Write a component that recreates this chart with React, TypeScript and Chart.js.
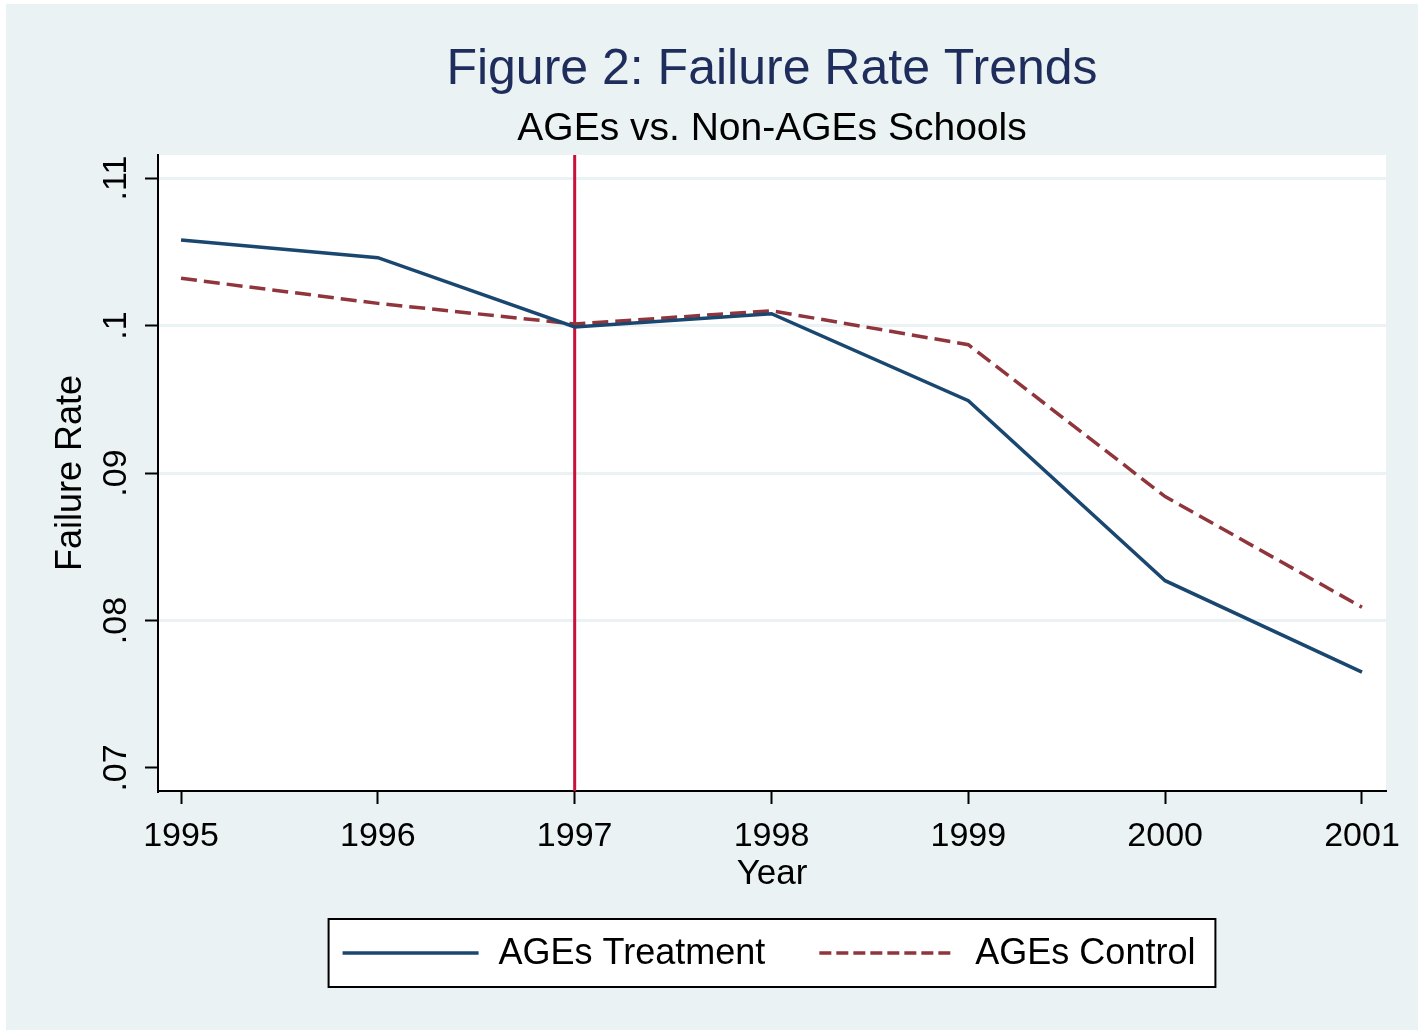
import { useEffect, useRef } from 'react';
import { Chart, registerables } from 'chart.js';

Chart.register(...registerables);

const years = [1995, 1996, 1997, 1998, 1999, 2000, 2001];
const treatment = [0.1058, 0.1046, 0.0999, 0.1008, 0.0949, 0.0827, 0.0765];
const control = [0.1032, 0.1015, 0.1001, 0.1010, 0.0987, 0.0884, 0.0809];
const yTicks = [0.07, 0.08, 0.09, 0.1, 0.11];
const yTickLabels = ['.07', '.08', '.09', '.1', '.11'];
const seriesLabels = ['AGEs Treatment', 'AGEs Control'];
const reformYear = 1997;
const titleText = 'Figure 2: Failure Rate Trends';
const subtitleText = 'AGEs vs. Non-AGEs Schools';
const xTitle = 'Year';
const yTitle = 'Failure Rate';

const FONT = '"Liberation Sans", Arial, Helvetica, sans-serif';
const BG = '#EAF2F3';
const X_MIN = 1994.883;
const X_MAX = 2001.122;
const Y_MIN = 0.06844;
const Y_MAX = 0.11156;

const backgroundPlugin = {
  id: 'stataBackground',
  beforeDraw(chart: any) {
    const { ctx, width, height, chartArea } = chart;
    ctx.save();
    ctx.fillStyle = '#ffffff';
    ctx.fillRect(0, 0, width, height);
    ctx.fillStyle = BG;
    ctx.fillRect(6, 4, width - 6, height - 4);
    ctx.fillStyle = '#ffffff';
    ctx.fillRect(chartArea.left, chartArea.top, chartArea.right - chartArea.left, chartArea.bottom - chartArea.top);
    ctx.restore();
  },
};

const legendPlugin = {
  id: 'stataLegend',
  afterDraw(chart: any) {
    const { ctx, chartArea } = chart;
    const ds = chart.data.datasets;
    ctx.save();
    ctx.font = `36px ${FONT}`;
    const w1 = ctx.measureText(seriesLabels[0]).width;
    const w2 = ctx.measureText(seriesLabels[1]).width;
    const padL = 14, sample = 136, gap = 20, itemGap = 54, padR = 20;
    const total = padL + sample + gap + w1 + itemGap + sample + gap + w2 + padR;
    const cx = (chartArea.left + chartArea.right) / 2;
    const left = cx - total / 2;
    const top = chartArea.bottom + 128;
    const h = 68;
    ctx.fillStyle = '#ffffff';
    ctx.fillRect(left, top, total, h);
    ctx.strokeStyle = '#000000';
    ctx.lineWidth = 2;
    ctx.strokeRect(left, top, total, h);
    const cy = top + h / 2;
    let x = left + padL;
    const items = [
      { ds: ds[0], label: seriesLabels[0], w: w1, dash: [] as number[] },
      { ds: ds[1], label: seriesLabels[1], w: w2, dash: [12, 5] },
    ];
    items.forEach((it, i) => {
      ctx.strokeStyle = it.ds.borderColor;
      ctx.lineWidth = 3.5;
      ctx.setLineDash(it.dash);
      ctx.beginPath();
      ctx.moveTo(x, cy);
      ctx.lineTo(x + sample, cy);
      ctx.stroke();
      ctx.setLineDash([]);
      x += sample + gap;
      ctx.fillStyle = '#000000';
      ctx.textBaseline = 'middle';
      ctx.textAlign = 'left';
      ctx.fillText(it.label, x, cy + 1);
      x += it.w + (i === 0 ? itemGap : 0);
    });
    ctx.restore();
  },
};

export default function App() {
  const ref = useRef<HTMLCanvasElement | null>(null);

  useEffect(() => {
    document.body.style.margin = '0';
    if (!ref.current) return;
    Chart.defaults.font.family = FONT;
    const chart = new Chart(ref.current, {
      type: 'line',
      data: {
        datasets: [
          {
            label: seriesLabels[0],
            data: years.map((y, i) => ({ x: y, y: treatment[i] })),
            borderColor: '#1A476F',
            borderWidth: 3.5,
            pointRadius: 0,
            tension: 0,
            fill: false,
          },
          {
            label: seriesLabels[1],
            data: years.map((y, i) => ({ x: y, y: control[i] })),
            borderColor: '#90353B',
            borderWidth: 3.5,
            borderDash: [16, 7],
            pointRadius: 0,
            tension: 0,
            fill: false,
          },
          {
            label: 'reform',
            data: [
              { x: reformYear, y: Y_MIN },
              { x: reformYear, y: Y_MAX },
            ],
            borderColor: '#C8103A',
            borderWidth: 3,
            pointRadius: 0,
            fill: false,
          },
        ],
      },
      options: {
        responsive: false,
        animation: false,
        devicePixelRatio: 1,
        layout: { padding: { left: 0, right: 32, top: 0, bottom: 129 } },
        plugins: {
          legend: { display: false },
          tooltip: { enabled: false },
          title: {
            display: true,
            text: titleText,
            color: '#1E2D5B',
            fullSize: false,
            font: { size: 50, weight: 'normal', family: FONT },
            padding: { top: 40, bottom: 5.6 },
          },
          subtitle: {
            display: true,
            text: subtitleText,
            color: '#000000',
            fullSize: false,
            font: { size: 39, weight: 'normal', family: FONT },
            padding: { top: 0, bottom: 2.6 },
          },
        },
        scales: {
          x: {
            type: 'linear',
            position: 'bottom',
            min: X_MIN,
            max: X_MAX,
            afterBuildTicks: (s: any) => {
              s.ticks = years.map((v) => ({ value: v }));
            },
            afterFit: (s: any) => {
              s.height = 110;
            },
            ticks: {
              color: '#000000',
              font: { size: 34, family: FONT },
              padding: 12,
              maxRotation: 0,
              minRotation: 0,
              callback: (v: any) => String(v),
            },
            grid: {
              drawOnChartArea: false,
              drawTicks: true,
              tickLength: 13,
              tickColor: '#000000',
              tickWidth: 2,
            },
            border: { display: true, color: '#000000', width: 2 },
            title: {
              display: true,
              text: xTitle,
              color: '#000000',
              font: { size: 35, family: FONT },
              padding: { top: 0, bottom: 6 },
            },
          },
          y: {
            type: 'linear',
            position: 'left',
            min: Y_MIN,
            max: Y_MAX,
            afterBuildTicks: (s: any) => {
              s.ticks = yTicks.map((v) => ({ value: v }));
            },
            afterFit: (s: any) => {
              s.width = 158;
            },
            ticks: {
              color: '#000000',
              font: { size: 34, family: FONT },
              padding: 5,
              minRotation: 90,
              maxRotation: 90,
              crossAlign: 'center',
              callback: (_v: any, i: number) => yTickLabels[i],
            },
            grid: {
              color: (c: any) => (c.index === 0 ? 'rgba(0,0,0,0)' : BG),
              lineWidth: 3,
              drawTicks: true,
              tickLength: 13,
              tickColor: '#000000',
              tickWidth: 2,
            },
            border: { display: true, color: '#000000', width: 2 },
            title: {
              display: true,
              text: yTitle,
              color: '#000000',
              font: { size: 36, family: FONT },
              padding: { top: 49, bottom: 0 },
            },
          },
        },
      },
      plugins: [backgroundPlugin, legendPlugin],
    } as any);
    return () => chart.destroy();
  }, []);

  return (
    <div style={{ position: 'fixed', left: 0, top: 0, width: 1418, height: 1030 }}>
      <canvas ref={ref} width={1418} height={1030} style={{ width: 1418, height: 1030, display: 'block' }} />
    </div>
  );
}
